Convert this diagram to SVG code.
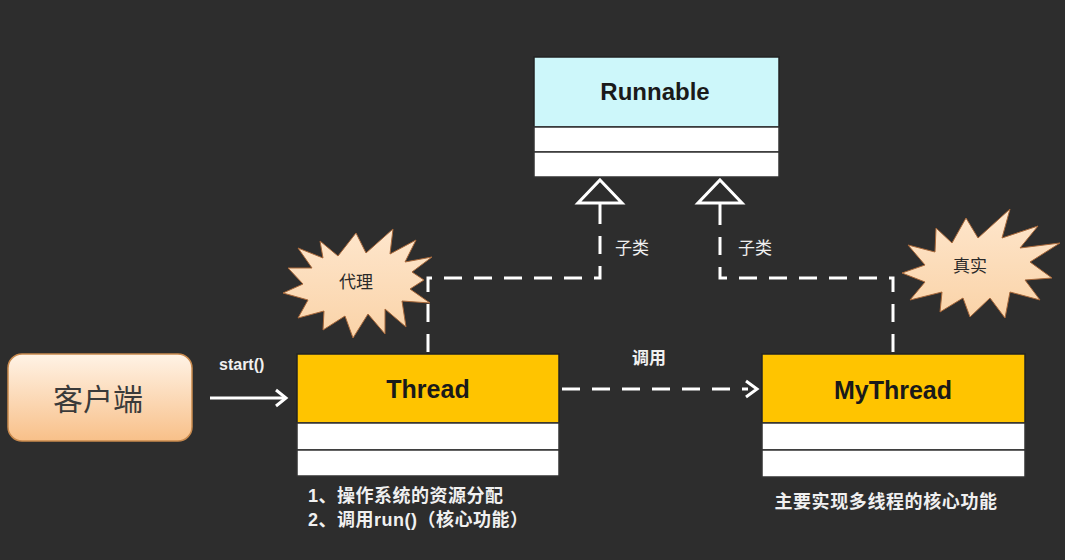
<svg xmlns="http://www.w3.org/2000/svg" width="1065" height="560" viewBox="0 0 1065 560">
<defs>
<linearGradient id="peach" x1="0" y1="0" x2="0" y2="1">
<stop offset="0" stop-color="#fff3e6"/>
<stop offset="1" stop-color="#f8c089"/>
</linearGradient>
<linearGradient id="burst" x1="0" y1="0" x2="0" y2="1">
<stop offset="0" stop-color="#fee6cc"/>
<stop offset="1" stop-color="#fad3a8"/>
</linearGradient>
</defs>
<style>
.bg{fill:#2d2d2d}
.hdrY{fill:#ffc400;stroke:#222;stroke-width:1.5}
.hdrC{fill:#cdf7fa;stroke:#222;stroke-width:1.5}
.comp{fill:#ffffff;stroke:#333;stroke-width:1.5}
.cls{font-family:"Liberation Sans",Arial,sans-serif;font-weight:bold;fill:#1a1a1a;text-anchor:middle}
.lbl{font-family:"Liberation Sans","Noto Sans CJK SC",sans-serif;font-weight:bold;fill:#f0f0f0}
.dash{fill:none;stroke:#ffffff;stroke-width:3;stroke-dasharray:18 12}
.solid{fill:none;stroke:#ffffff;stroke-width:3}
.star{fill:url(#burst);stroke:#a8683a;stroke-width:1}
</style>
<rect class="bg" x="0" y="0" width="1065" height="560"/>

<g id="proxy-burst">
<polygon class="star" points="320,241 338,256 356,233 366,253 393,229 390,254 416,240 405,262 432,257 412,272 424,280 410,289 430,303 402,301 406,327 385,309 385,334 368,314 353,338 345,316 323,330 324,311 298,318 308,300 283,293 303,284 288,268 312,268 298,248 323,258"/>
<text x="356" y="288" font-family="Noto Sans CJK SC,sans-serif" font-size="17" fill="#2a2a2a" text-anchor="middle">代理</text>
</g>

<g id="real-burst">
<polygon class="star" points="936,228 952,243 966,218 978,238 1010,209 1002,238 1038,226 1020,248 1060,243 1030,262 1052,278 1025,280 1040,300 1010,292 1005,318 990,298 970,317 963,298 940,312 942,292 910,300 925,282 902,273 925,265 908,245 935,252"/>
<text x="970" y="272" font-family="Noto Sans CJK SC,sans-serif" font-size="17" fill="#2a2a2a" text-anchor="middle">真实</text>
</g>

<g id="connectors">
<path class="dash" d="M428,352 V278 H600 V222"/>
<line class="solid" x1="600" y1="202" x2="600" y2="222"/>
<polygon points="600,180 622,203 578,203" fill="none" stroke="#ffffff" stroke-width="3"/>
<path class="dash" d="M893,352 V278 H720 V222"/>
<line class="solid" x1="720" y1="202" x2="720" y2="222"/>
<polygon points="720,180 742,203 698,203" fill="none" stroke="#ffffff" stroke-width="3"/>
<line class="dash" x1="562" y1="389" x2="748" y2="389"/>
<path d="M746,381 L757,389 L746,397" fill="none" stroke="#ffffff" stroke-width="3"/>
<line class="solid" x1="210" y1="398" x2="284" y2="398"/>
<path d="M276,390 L286,398 L276,406" fill="none" stroke="#ffffff" stroke-width="3"/>
<text class="lbl" x="615" y="254" font-size="17" style="font-weight:normal">子类</text>
<text class="lbl" x="738" y="254" font-size="17" style="font-weight:normal">子类</text>
<text class="lbl" x="632" y="364" font-size="17">调用</text>
<text class="lbl" x="219" y="370" font-size="16">start()</text>
</g>

<g id="runnable">
<rect class="hdrC" x="534" y="57" width="245" height="70"/>
<rect class="comp" x="534" y="127" width="245" height="25"/>
<rect class="comp" x="534" y="152" width="245" height="25"/>
<text class="cls" x="655" y="100" font-size="24">Runnable</text>
</g>

<g id="thread">
<rect class="hdrY" x="297" y="354" width="262" height="69"/>
<rect class="comp" x="297" y="423" width="262" height="27"/>
<rect class="comp" x="297" y="450" width="262" height="26"/>
<text class="cls" x="428" y="398" font-size="25">Thread</text>
</g>

<g id="mythread">
<rect class="hdrY" x="762" y="354" width="263" height="69"/>
<rect class="comp" x="762" y="423" width="263" height="27"/>
<rect class="comp" x="762" y="450" width="263" height="27"/>
<text class="cls" x="893" y="399" font-size="25">MyThread</text>
</g>

<g id="client">
<rect x="8" y="354" width="184" height="87" rx="14" ry="14" fill="url(#peach)" stroke="#c98a4e" stroke-width="1.5"/>
<text x="98" y="410" font-family="Noto Sans CJK SC,sans-serif" font-size="30" fill="#3a3a3a" text-anchor="middle">客户端</text>
</g>

<g id="notes">
<text class="lbl" x="308" y="502" font-size="18" letter-spacing="0.5">1、操作系统的资源分配</text>
<text class="lbl" x="308" y="526" font-size="18" letter-spacing="0.5">2、调用run()（核心功能）</text>
<text class="lbl" x="886" y="508" font-size="18" letter-spacing="0.6" text-anchor="middle">主要实现多线程的核心功能</text>
</g>
</svg>
